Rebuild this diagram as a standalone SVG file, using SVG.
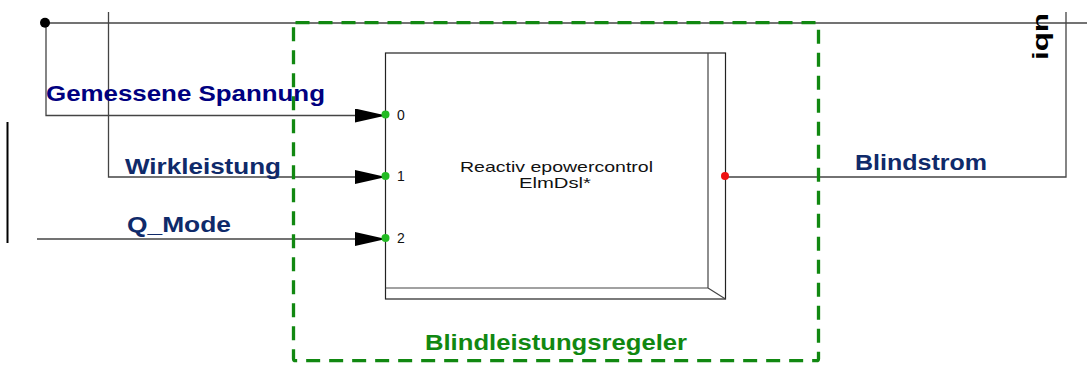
<svg xmlns="http://www.w3.org/2000/svg" width="1087" height="388" viewBox="0 0 1087 388">
<style>
.wire{fill:none;stroke:#444;stroke-width:1.3}
.lbl{font-family:"Liberation Sans",Arial,sans-serif;font-weight:bold;font-size:22px}
.blue{fill:#000080}
.navy{fill:#0f2a6a}
.port{font-family:"Liberation Sans",Arial,sans-serif;font-size:14px;fill:#111}
.body{font-family:"Liberation Sans",Arial,sans-serif;font-size:15px;fill:#111}
.inpin{fill:#22bb22}
.outpin{fill:#ee1111}
</style>
<defs>
<marker id="arr" markerUnits="userSpaceOnUse" markerWidth="32" markerHeight="16" refX="31" refY="7" orient="auto">
<path d="M0,0 L31,7 L0,14 Z" fill="#000"/>
</marker>
<clipPath id="clipTop"><rect x="990" y="10" width="97" height="200"/></clipPath>
</defs>
<rect width="1087" height="388" fill="#fff"/>
<g id="connectors">
<path class="wire" d="M46,23 H1087"/>
<path class="wire" d="M46,23 V115.5 H386" marker-end="url(#arr)"/>
<path class="wire" d="M108.5,12 V177 H386" stroke="#222" marker-end="url(#arr)"/>
<path class="wire" d="M37,239 H386" stroke="#222" marker-end="url(#arr)"/>
<path class="wire" d="M725,177 H1066 V12" stroke="#222"/>
<path d="M7.5,122 V243" stroke="#000" stroke-width="2"/>
<circle cx="45" cy="22.7" r="5" fill="#000"/>
</g>
<g id="group-frame">
<rect x="293.5" y="22.7" width="525" height="338" rx="2" fill="none" stroke="#118811" stroke-width="3.3" stroke-dasharray="14 9"/>
<text class="lbl" x="425" y="349.5" textLength="262" lengthAdjust="spacingAndGlyphs" fill="#118811">Blindleistungsregeler</text>
</g>
<g id="block">
<rect x="385.5" y="53" width="340" height="246" fill="#fff" stroke="#222" stroke-width="1.2"/>
<path d="M708,53 V288 H385.5 M708,288 L725.5,299" fill="none" stroke="#444" stroke-width="1.2"/>
<text class="body" x="460" y="172" textLength="193" lengthAdjust="spacingAndGlyphs">Reactiv epowercontrol</text>
<text class="body" x="519" y="188" textLength="72" lengthAdjust="spacingAndGlyphs">ElmDsl*</text>
<circle class="inpin" cx="385.5" cy="114.5" r="4"/>
<circle class="inpin" cx="385.5" cy="176" r="4"/>
<circle class="inpin" cx="385.5" cy="238" r="4"/>
<circle class="outpin" cx="725" cy="176" r="4"/>
<text class="port" x="397" y="120">0</text>
<text class="port" x="397" y="181">1</text>
<text class="port" x="397" y="243">2</text>
</g>
<g id="labels">
<text class="lbl blue" x="46" y="101" textLength="279" lengthAdjust="spacingAndGlyphs">Gemessene Spannung</text>
<text class="lbl navy" x="125" y="174" textLength="156" lengthAdjust="spacingAndGlyphs">Wirkleistung</text>
<text class="lbl navy" x="127" y="232" textLength="104" lengthAdjust="spacingAndGlyphs">Q_Mode</text>
<text class="lbl navy" x="855" y="170" textLength="132" lengthAdjust="spacingAndGlyphs">Blindstrom</text>
<g clip-path="url(#clipTop)">
<text class="lbl" fill="#000" transform="translate(1048,60) rotate(-90)" textLength="47" lengthAdjust="spacingAndGlyphs">iqn</text>
</g>
</g>
</svg>
